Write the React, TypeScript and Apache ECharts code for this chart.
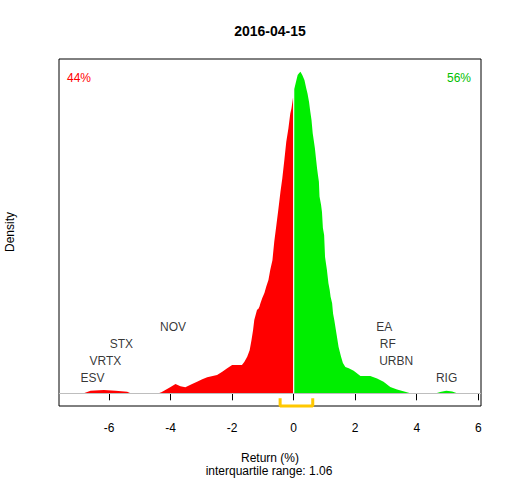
import React, { useEffect, useRef } from "react";
import * as echarts from "echarts";

// Density of returns, left of zero (negative returns)
const redX = [-6.82, -6.6, -6.17, -5.79, -5.41, -5.3, -4.39, -4.3, -4.17, -4.0, -3.84, -3.68, -3.52, -3.3, -3.14, -2.97, -2.81, -2.49, -2.32, -2.16, -2.0, -1.68, -1.6, -1.51, -1.43, -1.37, -1.32, -1.28, -1.19, -1.15, -1.11, -1.08, -1.02, -0.95, -0.89, -0.82, -0.76, -0.69, -0.63, -0.56, -0.5, -0.43, -0.37, -0.3, -0.24, -0.17, -0.11, -0.07, -0.02];
const redY = [0, 0.004, 0.005, 0.004, 0.0025, 0, 0, 0.0015, 0.005, 0.01, 0.0145, 0.011, 0.0093, 0.0145, 0.018, 0.0218, 0.025, 0.0285, 0.0336, 0.039, 0.044, 0.044, 0.049, 0.057, 0.067, 0.083, 0.098, 0.114, 0.13, 0.131, 0.135, 0.14, 0.148, 0.156, 0.166, 0.176, 0.192, 0.207, 0.236, 0.262, 0.285, 0.313, 0.334, 0.364, 0.391, 0.412, 0.435, 0.443, 0.46];

// Density of returns, right of zero (positive returns)
const greenX = [0.02, 0.09, 0.13, 0.18, 0.22, 0.28, 0.35, 0.41, 0.45, 0.5, 0.54, 0.58, 0.62, 0.65, 0.69, 0.73, 0.76, 0.79, 0.82, 0.84, 0.89, 0.92, 0.95, 0.99, 1.02, 1.05, 1.08, 1.13, 1.17, 1.2, 1.25, 1.28, 1.32, 1.39, 1.46, 1.54, 1.6, 1.68, 1.79, 1.95, 2.17, 2.49, 2.71, 2.92, 3.14, 3.36, 3.68, 3.79, 4.63, 4.76, 4.96, 5.15, 5.31];
const greenY = [0.473, 0.487, 0.495, 0.498, 0.5, 0.495, 0.487, 0.474, 0.466, 0.453, 0.438, 0.425, 0.404, 0.394, 0.381, 0.363, 0.35, 0.339, 0.329, 0.306, 0.293, 0.282, 0.257, 0.246, 0.212, 0.202, 0.192, 0.171, 0.161, 0.15, 0.14, 0.124, 0.114, 0.093, 0.072, 0.057, 0.047, 0.041, 0.039, 0.035, 0.027, 0.027, 0.023, 0.018, 0.01, 0.006, 0.0015, 0, 0, 0.002, 0.004, 0.003, 0];

// Extreme movers
const stockNames = ["ESV", "VRTX", "STX", "NOV", "EA", "RF", "URBN", "RIG"];
const stockReturns = [-6.54, -6.12, -5.6, -3.92, 2.94, 3.06, 3.33, 4.97];
const labelLevels = [0, 1, 2, 3, 3, 2, 1, 0];

const xTicks = [-6, -4, -2, 0, 2, 4, 6];
const iqrLow = -0.44;
const iqrHigh = 0.62;
const iqrText = "interquartile range: 1.06";
const titleText = "2016-04-15";
const pctDown = "44%";
const pctUp = "56%";

const FONT = '"Liberation Sans", Arial, sans-serif';

export default function App() {
  const ref = useRef<HTMLDivElement>(null);
  useEffect(() => {
    if (!ref.current) return;
    const chart = echarts.init(ref.current, undefined, { renderer: "svg" });
    const yMin = -0.0197;
    const yMax = 0.5197;
    const levelY = (l: number) => 0.0233 + l * 0.0264;
    const option: any = {
      animation: false,
      backgroundColor: "#fff",
      grid: {
        left: 59,
        right: 31,
        top: 59,
        bottom: 74,
        show: true,
        borderColor: "#000",
        borderWidth: 1,
        backgroundColor: "transparent",
      },
      xAxis: {
        type: "value",
        min: -7.626,
        max: 6.088,
        axisLine: { show: false },
        splitLine: { show: false },
        axisTick: {
          show: true,
          length: 7,
          inside: false,
          customValues: xTicks,
          lineStyle: { color: "#000", width: 1 },
        },
        axisLabel: {
          customValues: xTicks,
          color: "#000",
          fontSize: 12,
          fontFamily: FONT,
          margin: 16,
        },
      },
      yAxis: { type: "value", min: yMin, max: yMax, show: false },
      series: [
        {
          type: "line",
          data: redX.map((x, i) => [x, redY[i]]),
          symbol: "none",
          lineStyle: { width: 0 },
          areaStyle: { color: "#FF0000", opacity: 1 },
          z: 3,
          markLine: {
            silent: true,
            symbol: "none",
            label: { show: false },
            lineStyle: { color: "#BEBEBE", type: "solid", width: 1 },
            data: [{ yAxis: 0 }],
          },
        },
        {
          type: "line",
          data: greenX.map((x, i) => [x, greenY[i]]),
          symbol: "none",
          lineStyle: { width: 0 },
          areaStyle: { color: "#00EE00", opacity: 1 },
          z: 3,
        },
        {
          type: "line",
          data: [
            [iqrLow, -0.0078],
            [iqrLow, yMin],
            [iqrHigh, yMin],
            [iqrHigh, -0.0078],
          ],
          symbol: "none",
          clip: false,
          lineStyle: { color: "#FFC800", width: 3 },
          z: 5,
        },
        {
          type: "scatter",
          symbolSize: 0,
          data: stockNames.map((n, i) => ({
            value: [stockReturns[i], levelY(labelLevels[i])],
            name: n,
          })),
          label: {
            show: true,
            position: "inside",
            formatter: (p: any) => p.name,
            color: "#000",
            fontSize: 12,
            fontFamily: FONT,
          },
          z: 6,
        },
      ],
      graphic: [
        {
          type: "text",
          x: 270,
          y: 31,
          style: {
            text: titleText,
            font: `bold 14px ${FONT}`,
            fill: "#000",
            textAlign: "center",
            textVerticalAlign: "middle",
          },
        },
        {
          type: "text",
          x: 67,
          y: 78,
          style: {
            text: pctDown,
            font: `12px ${FONT}`,
            fill: "#FF0000",
            textAlign: "left",
            textVerticalAlign: "middle",
          },
        },
        {
          type: "text",
          x: 471,
          y: 78,
          style: {
            text: pctUp,
            font: `12px ${FONT}`,
            fill: "#00C000",
            textAlign: "right",
            textVerticalAlign: "middle",
          },
        },
        {
          type: "text",
          x: 270,
          y: 458,
          style: {
            text: "Return (%)",
            font: `12px ${FONT}`,
            fill: "#000",
            textAlign: "center",
            textVerticalAlign: "middle",
          },
        },
        {
          type: "text",
          x: 269,
          y: 471,
          style: {
            text: iqrText,
            font: `12px ${FONT}`,
            fill: "#000",
            textAlign: "center",
            textVerticalAlign: "middle",
          },
        },
        {
          type: "text",
          x: 10,
          y: 232,
          rotation: Math.PI / 2,
          style: {
            text: "Density",
            font: `12px ${FONT}`,
            fill: "#000",
            textAlign: "center",
            textVerticalAlign: "middle",
          },
        },
      ],
    };
    chart.setOption(option);
    return () => chart.dispose();
  }, []);
  return (
    <div
      ref={ref}
      style={{ position: "fixed", left: 0, top: 0, width: 512, height: 480 }}
    />
  );
}
